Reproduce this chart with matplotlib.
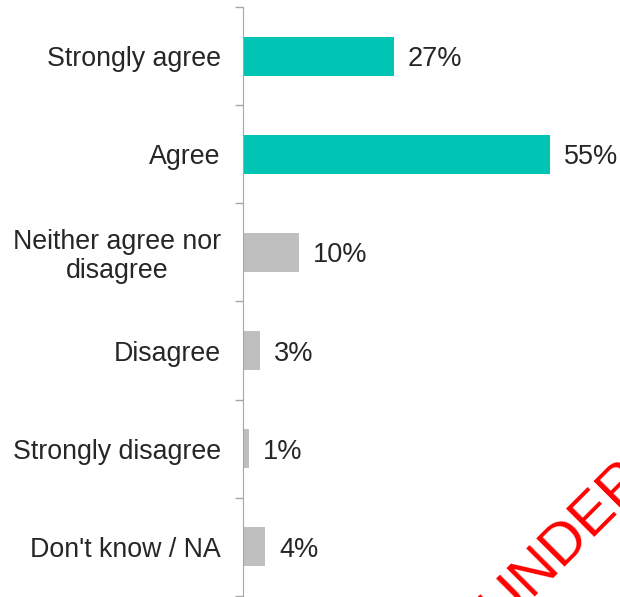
import matplotlib.pyplot as plt
import numpy as np

plt.rcParams['font.family'] = ['Liberation Sans', 'DejaVu Sans']

categories = ['Strongly agree', 'Agree', 'Neither agree nor\ndisagree',
              'Disagree', 'Strongly disagree', "Don't know / NA"]
values = [27, 55, 10, 3, 1, 4]
colors = ['#00C4B4', '#00C4B4', '#BFBFBF', '#BFBFBF', '#BFBFBF', '#BFBFBF']

fig = plt.figure(figsize=(6.2, 5.97), dpi=100)
ax = fig.add_axes([0.392, 0.002, 0.608, 0.986])

y = np.arange(len(categories))
ax.barh(y, values, height=0.4, color=colors)

for yi, v in zip(y, values):
    ax.annotate(f'{v}%', (v, yi), xytext=(10, 0), textcoords='offset points',
                va='center_baseline', ha='left', fontsize=19.5, color='#262626')

ax.set_xlim(0, 67.5)
ax.set_ylim(len(categories) - 0.5, -0.5)
ax.set_yticks(y)
ax.set_yticklabels(categories, fontsize=19.3, color='#262626', ha='right',
                   multialignment='center', linespacing=1.15)
ax.tick_params(axis='y', which='major', length=0, pad=16)
ax.set_yticks(np.arange(-0.5, len(categories), 1), minor=True)
ax.tick_params(axis='y', which='minor', length=6, color='#A6A6A6', width=1)
ax.set_xticks([])

for s in ['top', 'right', 'bottom']:
    ax.spines[s].set_visible(False)
ax.spines['left'].set_color('#A6A6A6')

fig.text(0.825, -0.069, 'UNDER EMBARGO', rotation=45, color='red',
         fontsize=42, ha='left', va='bottom', rotation_mode='anchor')

plt.savefig('out.png', dpi=100)
